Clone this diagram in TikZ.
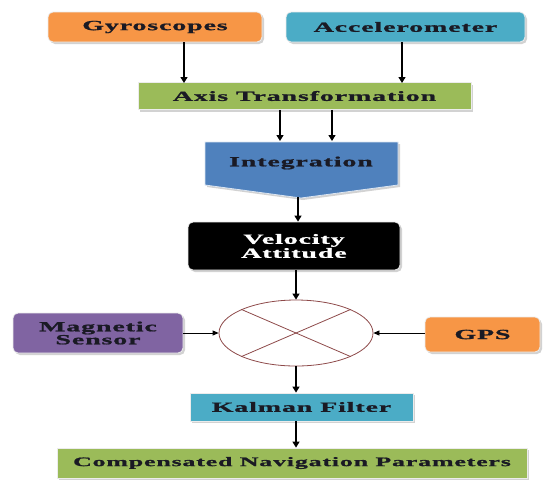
\documentclass[tikz,border=0pt]{standalone}
\usepackage{fontspec}
\setmainfont{Liberation Serif}
\newfontfamily\wf[FakeStretch=2.0,LetterSpace=6,FakeBold=1.2]{Liberation Serif}
\usetikzlibrary{shapes.geometric,arrows.meta,shadows,calc}
\definecolor{orng}{HTML}{F79646}
\definecolor{cyanb}{HTML}{4BACC6}
\definecolor{grn}{HTML}{9BBB59}
\definecolor{intb}{HTML}{4F81BD}
\definecolor{purp}{HTML}{8064A2}
\definecolor{txt}{HTML}{1A1A24}
\definecolor{ellc}{HTML}{8E4A4A}
\begin{document}
\begin{tikzpicture}[x=1pt,y=-1pt,
  box/.style={draw=white!85!gray, line width=0.8pt, inner sep=0pt, align=center,
    font=\wf\bfseries\fontsize{14}{15}\selectfont, text=txt,
    drop shadow={opacity=0.35, shadow xshift=2pt, shadow yshift=-2pt, fill=gray}},
  rbox/.style={box, rounded corners=5pt},
  arr/.style={-{Triangle[length=6pt,width=7pt]}, line width=1.3pt},
  tarr/.style={-{Triangle[length=6pt,width=5pt]}, line width=0.8pt}]
\useasboundingbox (0,0) rectangle (545,483);
\fill[white] (0,0) rectangle (545,483);

\node[rbox, fill=orng, minimum width=214pt, minimum height=30pt] (gyro) at (155,27) {Gyroscopes};
\node[rbox, fill=cyanb, minimum width=239pt, minimum height=30pt] (acc) at (405.5,27) {Accelerometer};
\node[box, fill=grn, minimum width=333pt, minimum height=27pt] (axis) at (304.5,96) {Axis Transformation};

\coordinate (g1) at (184,83);
\coordinate (a1) at (402,83);
\draw[arr] (gyro.south -| g1) -- (g1);
\draw[arr] (acc.south -| a1) -- (a1);

% Integration chevron
\path[draw=white!80!intb, line width=0.8pt, fill=intb,
  drop shadow={opacity=0.35, shadow xshift=2pt, shadow yshift=-2pt, fill=gray}]
  (205,142) -- (398,142) -- (398,185) -- (301,198) -- (205,185) -- cycle;
\node[font=\wf\bfseries\fontsize{14}{15}\selectfont, text=txt, inner sep=0pt] (integ) at (301,163) {Integration};
\coordinate (i1) at (280,141);
\coordinate (i2) at (332,141);
\coordinate (itip) at (298,197);
\draw[arr] (axis.south -| i1) -- (i1);
\draw[arr] (axis.south -| i2) -- (i2);

\node[rbox, fill=black, text=white, minimum width=212pt, minimum height=48pt] (vel) at (294,246) {Velocity\\[-1pt]Attitude};
\draw[arr] (itip) -- (vel.north -| itip);

\node[ellipse, draw=ellc, line width=0.8pt, minimum width=154pt, minimum height=66pt, inner sep=0pt] (sum) at (296,333) {};
\draw[ellc, line width=0.8pt] (sum.north west) -- (sum.south east);
\draw[ellc, line width=0.8pt] (sum.north east) -- (sum.south west);
\draw[arr] (vel.south -| sum.north) -- (sum.north);

\node[rbox, fill=purp, minimum width=170pt, minimum height=40pt] (mag) at (98,333) {Magnetic\\[-2pt]Sensor};
\node[rbox, fill=orng, minimum width=115pt, minimum height=35pt] (gps) at (482.5,334.5) {GPS};
\draw[tarr] (mag.east) -- (sum.west);
\draw[tarr] (gps.west |- sum.east) -- (sum.east);

\node[box, fill=cyanb, minimum width=223pt, minimum height=28pt] (kal) at (301.5,407) {Kalman Filter};
\draw[arr] (sum.south) -- (kal.north -| sum.south);

\node[box, fill=grn, minimum width=470pt, minimum height=30pt, font=\wf\bfseries\fontsize{13}{14}\selectfont] (comp) at (292,463) {Compensated Navigation Parameters};
\draw[arr] (kal.south -| sum.south) -- (comp.north -| sum.south);
\end{tikzpicture}
\end{document}
